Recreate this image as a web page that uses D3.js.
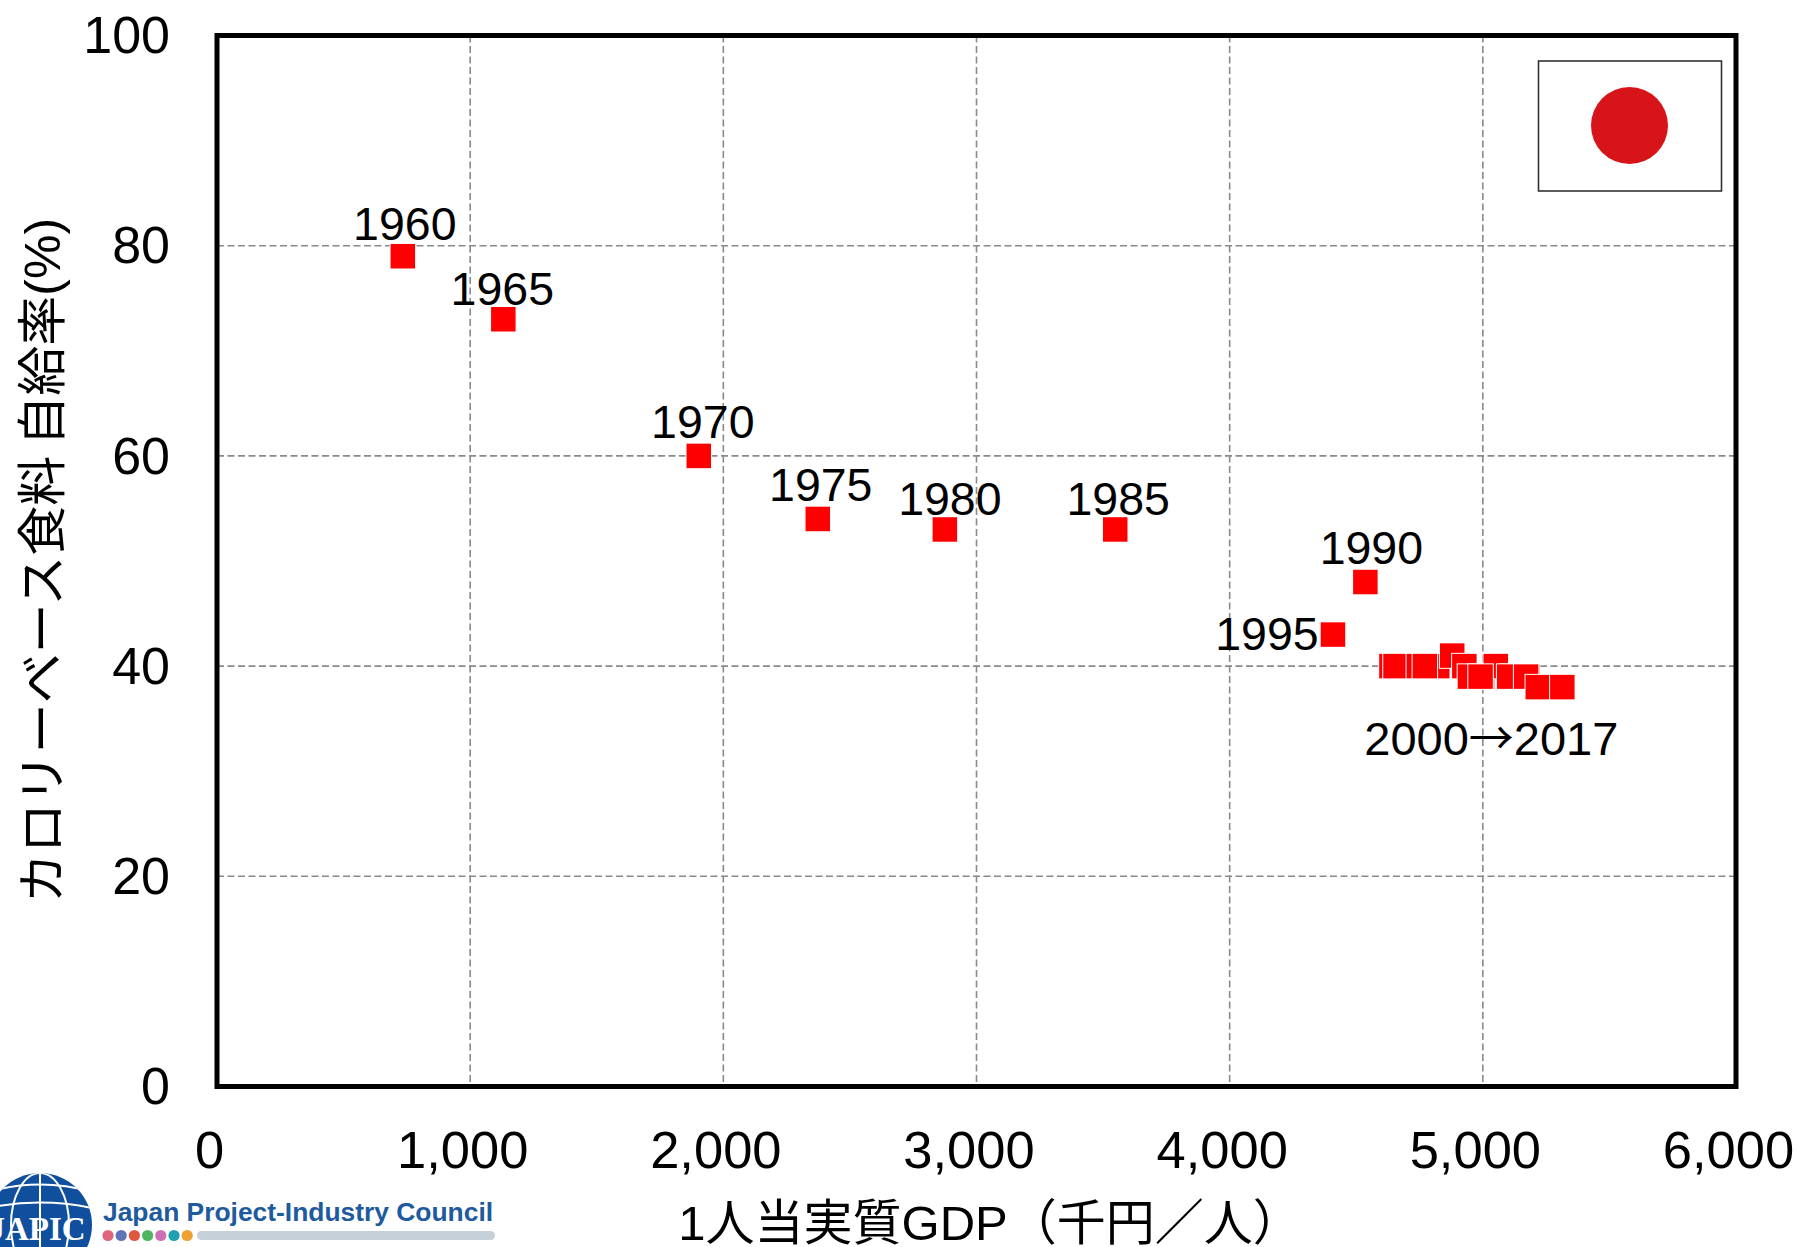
<!DOCTYPE html>
<html><head><meta charset="utf-8">
<script src="https://cdn.jsdelivr.net/npm/d3@7"></script>
<style>html,body{margin:0;padding:0;background:#fff;overflow:hidden}svg{display:block}
text{font-family:"Liberation Sans","Noto Sans CJK JP",sans-serif;fill:#000}</style>
</head><body><svg id="c" width="1799" height="1247"></svg>
<script>
const years=["1960","1965","1970","1975","1980","1985","1990","1995",2000,2001,2002,2003,2004,2005,2006,2007,2008,2009,2010,2011,2012,2013,2014,2015,2016,2017];
const gdp=[734,1131,1903,2373,2875,3548,4536,4408,4820,4721,4639,4655,4747,4771,4997,5051,4879,4927,4949,4991,5116,5104,5175,5171,5217,5314];
const selfSufficiency=[79,73,60,54,53,53,48,43,40,40,40,40,40,40,39,40,41,40,39,39,39,39,39,39,38,38];
const xTicks=[0,1000,2000,3000,4000,5000,6000];
const yTicks=[0,20,40,60,80,100];
const yearLabels=["1960","1965","1970","1975","1980","1985","1990","1995"];
const labelOffsets=[[2,-33],[-1,-31],[4,-35],[3,-35],[5,-31],[3,-31],[6,-35],[-66,-1]];
const xTitle="1人当実質GDP（千円／人）";
const yTitleParts=["カロリーベース食料","自給率(%)"];
const logoDots=["#e0647a","#5f74b5","#e0573f","#4fb55f","#cc6fb5","#1f9fb0","#f0a030"];

const svg=d3.select("#c");
const L=217,R=1736,T=35.5,B=1086.5;
const x=d3.scaleLinear().domain([0,6000]).range([L,R]);
const y=d3.scaleLinear().domain([0,100]).range([B,T]);

const grid=svg.append("g").attr("stroke","#8a8a8a").attr("stroke-width",1.6).attr("stroke-dasharray","7,3.5");
grid.selectAll("line.v").data(xTicks.slice(1,-1)).join("line").attr("x1",d=>x(d)).attr("x2",d=>x(d)).attr("y1",T).attr("y2",B);
grid.selectAll("line.h").data(yTicks.slice(1,-1)).join("line").attr("y1",d=>y(d)).attr("y2",d=>y(d)).attr("x1",L).attr("x2",R);

const xAxis=svg.append("g").attr("transform",`translate(0,${B})`).call(d3.axisBottom(x).tickValues(xTicks).tickSize(0).tickPadding(44.5).tickFormat(d3.format(",")));
const yAxis=svg.append("g").attr("transform",`translate(${L},0)`).call(d3.axisLeft(y).tickValues(yTicks).tickSize(0).tickPadding(47));
xAxis.select(".domain").remove();yAxis.select(".domain").remove();
xAxis.selectAll("text").attr("font-size",52.5).attr("dx",-8).style("font-family",'"Liberation Sans"');
yAxis.selectAll("text").attr("font-size",52).attr("dy","0.33em").style("font-family",'"Liberation Sans"');

svg.append("rect").attr("x",1526).attr("y",48).attr("width",207).attr("height",155).attr("fill","#fff");
svg.append("rect").attr("x",1538.5).attr("y",61).attr("width",183).attr("height",130).attr("fill","#fff").attr("stroke","#333").attr("stroke-width",1.6);
svg.append("circle").attr("cx",1629.5).attr("cy",125.5).attr("r",38.5).attr("fill","#d7141a");

svg.append("rect").attr("x",L).attr("y",T).attr("width",R-L).attr("height",B-T).attr("fill","none").attr("stroke","#000").attr("stroke-width",5);

const S=24.5;
svg.append("g").selectAll("rect").data(gdp).join("rect")
 .attr("x",d=>x(d)-S/2).attr("y",(d,i)=>y(selfSufficiency[i])-S/2).attr("width",S).attr("height",S)
 .attr("fill","#ff0000").attr("stroke","#fff").attr("stroke-width",2).attr("paint-order","stroke");

svg.append("g").selectAll("text").data(yearLabels).join("text")
 .attr("x",(d,i)=>x(gdp[i])+labelOffsets[i][0]).attr("y",(d,i)=>y(selfSufficiency[i])+labelOffsets[i][1])
 .attr("dy","0.36em").attr("text-anchor","middle").attr("font-size",46.5).text(d=>d);
const rangeLabel=svg.append("text").attr("x",x(gdp[gdp.length-1])-71).attr("y",y(38)+51).attr("dy","0.36em").attr("text-anchor","middle").attr("font-size",47);
rangeLabel.append("tspan").text("2000");
rangeLabel.append("tspan").style("font-family",'"Noto Sans CJK JP"').attr("font-size",45).text("→");
rangeLabel.append("tspan").text("2017");

svg.append("text").attr("x",990).attr("y",1240).attr("text-anchor","middle").attr("font-size",49).text(xTitle);
const yT=svg.append("text").attr("transform","translate(60,560.5) rotate(-90)").attr("text-anchor","middle").attr("font-size",50);
yT.append("tspan").text(yTitleParts[0]);
yT.append("tspan").attr("dx",10).text(yTitleParts[1]);

const g=svg.append("g");
g.append("clipPath").attr("id","gl").append("circle").attr("cx",40).attr("cy",1225).attr("r",52);
g.append("circle").attr("cx",40).attr("cy",1225).attr("r",52).attr("fill","#0f4f9e");
const gl=g.append("g").attr("clip-path","url(#gl)").attr("fill","none").attr("stroke","#fff").attr("stroke-width",2);
gl.append("line").attr("x1",40).attr("x2",40).attr("y1",1170).attr("y2",1280);
gl.append("ellipse").attr("cx",40).attr("cy",1225).attr("rx",29).attr("ry",52);
gl.append("path").attr("d","M-12 1192 Q40 1177 92 1192 M-12 1208 Q40 1197 92 1208");
g.append("text").attr("x",37).attr("y",1240).attr("text-anchor","middle").attr("font-size",33).attr("font-weight","bold").style("font-family",'"Liberation Serif"').style("fill","#fff").text("JAPIC");
g.append("text").attr("x",103).attr("y",1221).attr("font-size",26.4).attr("font-weight","bold").style("fill","#1d5a9e").text("Japan Project-Industry Council");
g.append("rect").attr("x",197).attr("y",1231).attr("width",298).attr("height",9).attr("rx",4.5).attr("fill","#c6d0d8");
g.selectAll("circle.d").data(logoDots).join("circle").attr("class","d").attr("cx",(d,i)=>108+i*13.2).attr("cy",1235.5).attr("r",5.6).attr("fill",d=>d);
</script></body></html>
